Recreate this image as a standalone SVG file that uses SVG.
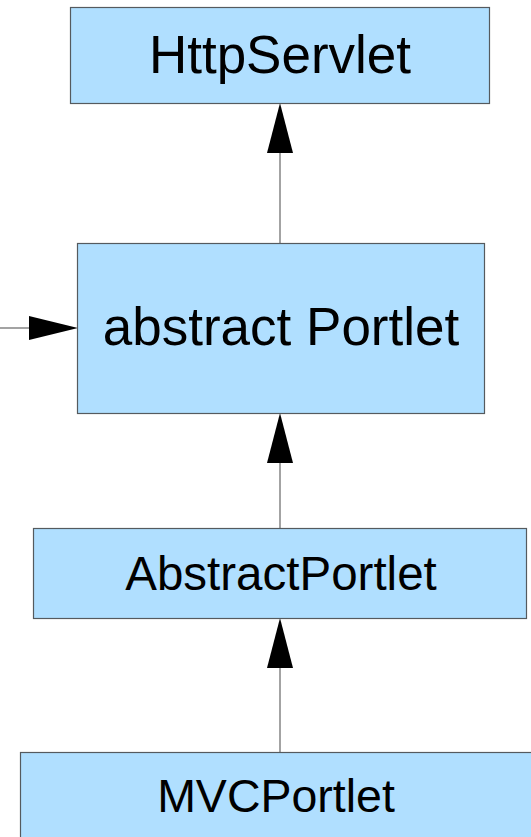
<svg xmlns="http://www.w3.org/2000/svg" width="531" height="837" viewBox="0 0 531 837">
<style>
.box{fill:#b0dfff;stroke:#555a5e;stroke-width:1.2}
.lbl{font-family:"Liberation Sans",Arial,sans-serif;fill:#000;text-anchor:middle}
.ln{stroke:#666;stroke-width:1.2;fill:none}
.ah{fill:#000}
</style>
<rect width="531" height="837" fill="#fff"/>
<g id="connectors">
<line class="ln" x1="280" y1="243" x2="280" y2="150"/>
<polygon class="ah" points="280,103 293,153 267,153"/>
<line class="ln" x1="280" y1="528" x2="280" y2="460"/>
<polygon class="ah" points="280,413 293,463 267,463"/>
<line class="ln" x1="280" y1="752" x2="280" y2="665"/>
<polygon class="ah" points="280,618 293,668 267,668"/>
<line class="ln" x1="0" y1="328" x2="32" y2="328"/>
<polygon class="ah" points="78,328 29,316 29,340"/>
</g>
<g id="httpservlet">
<rect class="box" x="70.5" y="7.5" width="419" height="96"/>
<text class="lbl" x="280" y="73" font-size="53">HttpServlet</text>
</g>
<g id="abstract-portlet">
<rect class="box" x="77.5" y="243.5" width="407" height="170"/>
<text class="lbl" x="281" y="345" font-size="53">abstract Portlet</text>
</g>
<g id="AbstractPortlet">
<rect class="box" x="33.5" y="528.5" width="493" height="90"/>
<text class="lbl" x="281" y="590" font-size="47.5">AbstractPortlet</text>
</g>
<g id="mvcportlet">
<rect class="box" x="20.5" y="752.5" width="520" height="100"/>
<text class="lbl" x="276" y="812" font-size="46.5">MVCPortlet</text>
</g>
</svg>
